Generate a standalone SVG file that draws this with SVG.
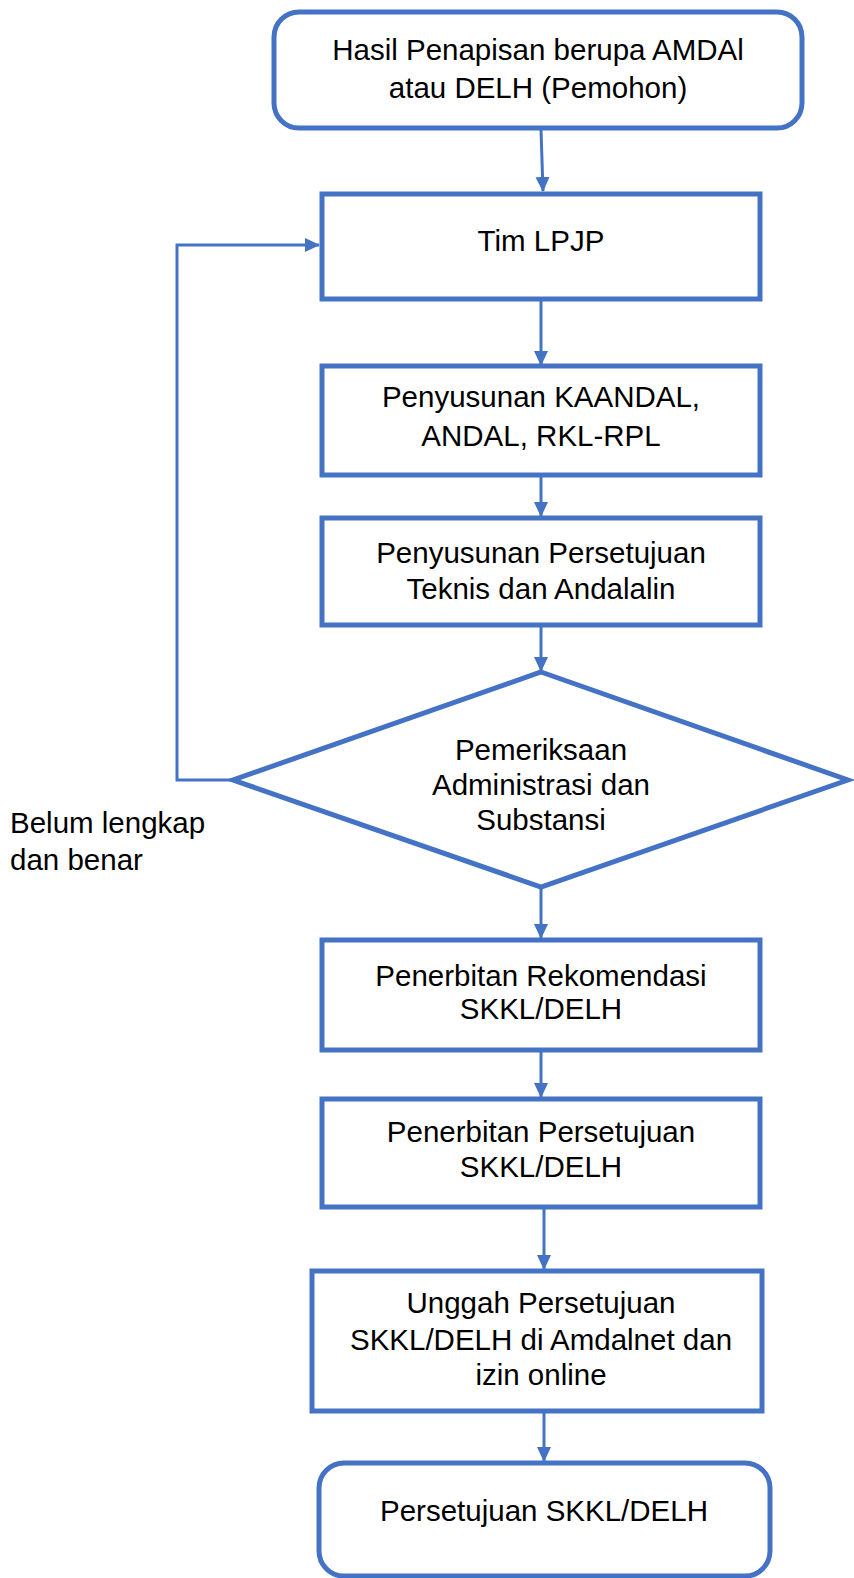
<svg xmlns="http://www.w3.org/2000/svg" width="854" height="1578" viewBox="0 0 854 1578">
<style>
.box{fill:#fff;stroke:#4472C4;stroke-width:5}
.con{fill:none;stroke:#4472C4;stroke-width:3}
text{font-family:"Liberation Sans",Arial,sans-serif;font-size:29.5px;fill:#000;text-anchor:middle}
.lbl{text-anchor:start}
</style>
<defs>
<marker id="ah" markerUnits="userSpaceOnUse" markerWidth="16" markerHeight="16" viewBox="0 0 16 16" refX="14" refY="8" orient="auto">
<path d="M0,1 L15,8 L0,15 Z" fill="#4472C4"/>
</marker>
</defs>
<rect width="854" height="1578" fill="#fff"/>
<g id="connectors">
<path class="con" d="M541,130 L543,191" marker-end="url(#ah)"/>
<path class="con" d="M541,300 L541,365" marker-end="url(#ah)"/>
<path class="con" d="M541,476 L541,516" marker-end="url(#ah)"/>
<path class="con" d="M541,626 L541,671" marker-end="url(#ah)"/>
<path class="con" d="M235,780 L177,780 L177,245 L319,245" marker-end="url(#ah)"/>
<path class="con" d="M541,888 L541,938" marker-end="url(#ah)"/>
<path class="con" d="M541,1051 L541,1097" marker-end="url(#ah)"/>
<path class="con" d="M544,1208 L544,1269" marker-end="url(#ah)"/>
<path class="con" d="M544,1412 L544,1461" marker-end="url(#ah)"/>
</g>
<g id="n1">
<rect class="box" x="274" y="12" width="528" height="116" rx="25"/>
<text x="538" y="60">Hasil Penapisan berupa AMDAl</text>
<text x="538" y="98">atau DELH (Pemohon)</text>
</g>
<g id="n2">
<rect class="box" x="322" y="194" width="438" height="105"/>
<text x="541" y="251">Tim LPJP</text>
</g>
<g id="n3">
<rect class="box" x="322" y="366" width="438" height="109"/>
<text x="541" y="407">Penyusunan KAANDAL,</text>
<text x="541" y="446">ANDAL, RKL-RPL</text>
</g>
<g id="n4">
<rect class="box" x="322" y="518" width="438" height="107"/>
<text x="541" y="563">Penyusunan Persetujuan</text>
<text x="541" y="599">Teknis dan Andalalin</text>
</g>
<g id="n5">
<polygon class="box" points="541,672 848,780 541,887 233,780"/>
<text x="541" y="760">Pemeriksaan</text>
<text x="541" y="795">Administrasi dan</text>
<text x="541" y="830">Substansi</text>
</g>
<g id="lbl">
<text class="lbl" x="10" y="833">Belum lengkap</text>
<text class="lbl" x="10" y="870">dan benar</text>
</g>
<g id="n6">
<rect class="box" x="322" y="940" width="438" height="110"/>
<text x="541" y="986">Penerbitan Rekomendasi</text>
<text x="541" y="1019">SKKL/DELH</text>
</g>
<g id="n7">
<rect class="box" x="322" y="1099" width="438" height="108"/>
<text x="541" y="1142">Penerbitan Persetujuan</text>
<text x="541" y="1177">SKKL/DELH</text>
</g>
<g id="n8">
<rect class="box" x="312" y="1271" width="450" height="140"/>
<text x="541" y="1313">Unggah Persetujuan</text>
<text x="541" y="1350">SKKL/DELH di Amdalnet dan</text>
<text x="541" y="1385">izin online</text>
</g>
<g id="n9">
<rect class="box" x="319" y="1463" width="451" height="113" rx="25"/>
<text x="544" y="1521">Persetujuan SKKL/DELH</text>
</g>
</svg>
